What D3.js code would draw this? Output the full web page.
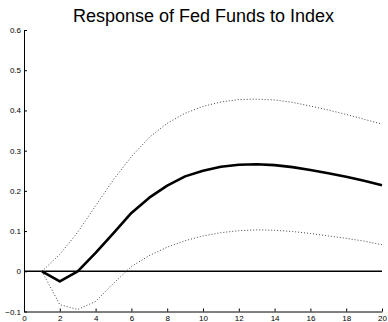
<!DOCTYPE html>
<html>
<head>
<meta charset="utf-8">
<script src="https://cdn.jsdelivr.net/npm/d3@7"></script>
<style>
  html, body { margin: 0; padding: 0; background: #fff; }
  svg { display: block; font-family: "Liberation Sans", Arial, Helvetica, sans-serif; }
</style>
</head>
<body>
<svg id="chart" width="388" height="322"></svg>
<script>
// Impulse response horizon (periods 1..20)
const periods = d3.range(1, 21);
// Point estimate of the response
const response = [0, -0.025, 0, 0.046, 0.095, 0.145, 0.183, 0.213, 0.236, 0.25,
                  0.26, 0.265, 0.266, 0.264, 0.259, 0.252, 0.244, 0.235, 0.225, 0.214];
// Upper and lower confidence bands
const upperBand = [0, 0.042, 0.097, 0.163, 0.228, 0.285, 0.333, 0.368, 0.393, 0.41,
                   0.421, 0.427, 0.428, 0.426, 0.42, 0.411, 0.401, 0.39, 0.378, 0.366];
const lowerBand = [0, -0.083, -0.095, -0.075, -0.03, 0.012, 0.039, 0.06, 0.076, 0.088,
                   0.096, 0.101, 0.103, 0.102, 0.099, 0.094, 0.088, 0.082, 0.075, 0.066];
// Axis ticks
const xTicks = [0, 2, 4, 6, 8, 10, 12, 14, 16, 18, 20];
const yTicks = [-0.1, 0, 0.1, 0.2, 0.3, 0.4, 0.5, 0.6];
const title = "Response of Fed Funds to Index";

const svg = d3.select("#chart");
const plotLeft = 24, plotRight = 382, plotTop = 30, plotBottom = 311.5;

const x = d3.scaleLinear().domain([0, 20]).range([plotLeft, plotRight]);
const y = d3.scaleLinear().domain([-0.1, 0.6]).range([plotBottom, plotTop]);

// Title
svg.append("text")
  .attr("x", 203.5).attr("y", 21.5)
  .attr("text-anchor", "middle")
  .attr("font-size", 18)
  .attr("fill", "#000")
  .text(title);

// Axes with inward ticks
const xAxis = d3.axisBottom(x).tickValues(xTicks).tickSizeInner(-3).tickSizeOuter(0)
  .tickFormat(d3.format("d")).tickPadding(4.3);
const yAxis = d3.axisLeft(y).tickValues(yTicks).tickSizeInner(-3).tickSizeOuter(0)
  .tickFormat(d => d === 0 ? "0" : d3.format(".1f")(d)).tickPadding(3);

const gx = svg.append("g").attr("transform", `translate(0,${plotBottom})`).call(xAxis);
const gy = svg.append("g").attr("transform", `translate(${plotLeft},0)`).call(yAxis);
[gx, gy].forEach(g => {
  g.select(".domain").attr("stroke", "#000").attr("stroke-width", 1);
  g.selectAll(".tick line").attr("stroke", "#000");
  g.selectAll(".tick text").attr("font-size", 8).attr("fill", "#000")
    .attr("font-family", "'Liberation Sans', Arial, sans-serif");
});

// Zero reference line
svg.append("line")
  .attr("x1", x(0)).attr("x2", x(20))
  .attr("y1", y(0)).attr("y2", y(0))
  .attr("stroke", "#000").attr("stroke-width", 1.5);

const line = d3.line().x((d, i) => x(periods[i])).y(d => y(d));

// Confidence bands (dotted)
[upperBand, lowerBand].forEach(band => {
  svg.append("path")
    .attr("d", line(band))
    .attr("fill", "none")
    .attr("stroke", "#444")
    .attr("stroke-width", 1)
    .attr("stroke-dasharray", "1,2");
});

// Point estimate
svg.append("path")
  .attr("d", line(response))
  .attr("fill", "none")
  .attr("stroke", "#000")
  .attr("stroke-width", 2.6)
  .attr("stroke-linejoin", "round");
</script>
</body>
</html>
